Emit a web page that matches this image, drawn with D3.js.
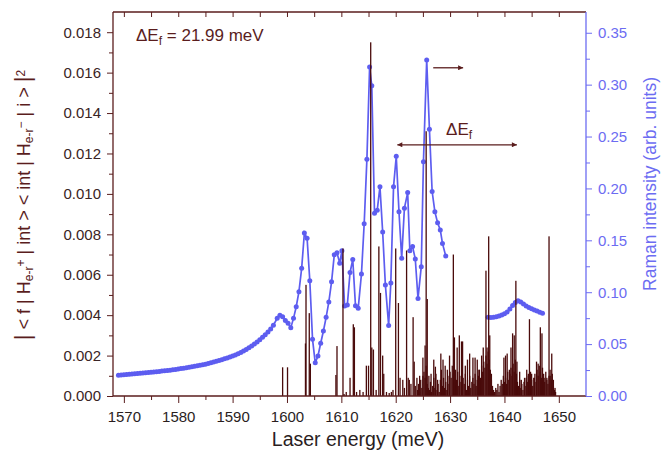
<!DOCTYPE html>
<html><head><meta charset="utf-8">
<script src="https://cdn.jsdelivr.net/npm/d3@7"></script>
<style>
body{margin:0;background:#fff}
svg{display:block}
text{font-family:"Liberation Sans",Arial,Helvetica,sans-serif}
</style>
</head><body><svg id="c" width="669" height="451"></svg>
<script>
// ---- data ----
// main transition-strength spikes
const peakE = [1599.2,1600.1,1603.4,1603.5,1604.1,1604.3,1609.0,1609.2,1610.3,1610.9,1611.6,1612.2,1612.4,1614.6,1615.0,1615.4,1615.6,1615.9,1616.9,1617.2,1617.6,1617.8,1618.8,1619.2,1620.0,1620.5,1620.8,1621.3,1622.0,1622.3,1622.5,1623.2,1623.4,1623.9,1624.4,1625.0,1625.4,1625.6,1625.8,1626.1,1626.5,1627.0,1627.3,1627.7,1628.3,1628.7,1629.1,1629.5,1629.9,1630.6,1630.8,1631.3,1631.7,1632.1,1632.3,1632.8,1633.2,1633.6,1634.2,1634.6,1635.0,1635.3,1635.8,1636.1,1636.6,1636.8,1637.1,1637.3,1637.6,1639.9,1640.2,1640.5,1640.9,1641.2,1641.5,1641.8,1642.1,1642.3,1642.8,1643.1,1643.7,1644.1,1644.4,1644.6,1645.0,1645.5,1645.9,1646.2,1646.6,1646.9,1647.3,1647.8,1648.2,1648.4,1648.7,1649.0,1649.3];
const peakV = [0.00142,0.00142,0.0026,0.0055,0.0041,0.0016,0.00104,0.00247,0.0073,0.0002,0.0009,0.00355,0.0034,0.0015,0.0015,0.0175,0.0024,0.0023,0.0074,0.0051,0.0020,0.0011,0.00015,0.0002,0.0073,0.0046,0.0009,0.0008,0.0072,0.0009,0.0008,0.0039,0.0017,0.0009,0.0010,0.0019,0.0025,0.0131,0.0048,0.0010,0.0011,0.0018,0.00145,0.0008,0.0021,0.0018,0.0015,0.0013,0.0020,0.0070,0.0029,0.0024,0.0030,0.0027,0.0027,0.0015,0.0018,0.0021,0.0019,0.0019,0.0018,0.0013,0.0020,0.0024,0.0062,0.0024,0.0079,0.0030,0.0011,0.0019,0.0020,0.0021,0.0013,0.0024,0.0031,0.0030,0.0057,0.0017,0.0012,0.0008,0.0009,0.0013,0.0011,0.0038,0.0011,0.0009,0.0017,0.0016,0.0034,0.0031,0.0009,0.0008,0.0079,0.0010,0.0021,0.0008,0.0004];
// dense small spikes forming the dark base
const baseE = [1610.5,1612.8,1613.4,1614.0,1616.4,1618.3,1619.5,1621.6,1622.8,1623.6,
1624.0,1624.2,1624.4,1624.6,1624.8,1625.0,1625.2,1625.4,1625.6,1625.8,1626.0,1626.2,1626.4,1626.6,1626.8,1627.0,1627.2,1627.4,1627.6,1627.8,1628.0,1628.2,1628.4,1628.6,1628.8,1629.0,1629.2,1629.4,1629.6,1629.8,1630.0,1630.2,1630.4,1630.6,1630.8,1631.0,1631.2,1631.4,1631.6,1631.8,1632.0,1632.2,1632.4,1632.6,1632.8,1633.0,1633.2,1633.4,1633.6,1633.8,1634.0,1634.2,1634.4,1634.6,1634.8,1635.0,1635.2,1635.4,1635.6,1635.8,1636.0,1636.2,1636.4,1636.6,1636.8,1637.0,1637.2,1637.4,1637.6,1637.8,1638.0,1638.2,1638.4,1638.6,1638.8,1639.0,1639.2,1639.4,1639.6,1639.8,1640.0,1640.2,1640.4,1640.6,1640.8,1641.0,1641.2,1641.4,1641.6,1641.8,1642.0,1642.2,1642.4,1642.6,1642.8,1643.0,1643.2,1643.4,1643.6,1643.8,1644.0,1644.2,1644.4,1644.6,1644.8,1645.0,1645.2,1645.4,1645.6,1645.8,1646.0,1646.2,1646.4,1646.6,1646.8,1647.0,1647.2,1647.4,1647.6,1647.8,1648.0,1648.2,1648.4,1648.6,1648.8,1649.0,1649.2,1649.4];
const baseV = [0.0001,0.0002,0.0003,0.0002,0.0003,0.0002,0.0003,0.0004,0.0006,0.0005,
0.0003,0.0006,0.0002,0.0008,0.0004,0.0010,0.0012,0.0009,0.0015,0.0006,0.0004,0.0003,0.0007,0.0002,0.0005,0.0009,0.0004,0.0011,0.0003,0.0006,0.0002,0.0008,0.0013,0.0005,0.0009,0.0004,0.0007,0.0003,0.0010,0.0006,0.0012,0.0009,0.0015,0.0011,0.0006,0.0013,0.0008,0.0012,0.0005,0.0010,0.0007,0.0004,0.0009,0.0006,0.0011,0.0003,0.0008,0.0005,0.0010,0.0004,0.0007,0.0009,0.0006,0.0011,0.0005,0.0008,0.0010,0.0013,0.0009,0.0015,0.0012,0.0017,0.0014,0.0020,0.0016,0.0022,0.0018,0.0013,0.0008,0.0005,0.0003,0.0002,0.0004,0.0003,0.0006,0.0002,0.0005,0.0008,0.0006,0.0010,0.0007,0.0009,0.0006,0.0012,0.0008,0.0011,0.0014,0.0010,0.0016,0.0012,0.0018,0.0011,0.0007,0.0005,0.0008,0.0004,0.0006,0.0003,0.0007,0.0005,0.0009,0.0007,0.0010,0.0006,0.0012,0.0008,0.0005,0.0009,0.0011,0.0007,0.0013,0.0010,0.0015,0.0012,0.0009,0.0014,0.0011,0.0007,0.0012,0.0009,0.0006,0.0010,0.0013,0.0008,0.0011,0.0005,0.0003,0.0002];
// Raman intensity (right axis), first branch
const ramanE = [1569.0,1569.5,1570.0,1570.5,1571.0,1571.5,1572.0,1572.5,1573.0,1573.5,1574.0,1574.5,1575.0,1575.5,1576.0,1576.5,1577.0,1577.5,1578.0,1578.5,1579.0,1579.5,1580.0,1580.5,1581.0,1581.5,1582.0,1582.5,1583.0,1583.5,1584.0,1584.5,1585.0,1585.5,1586.0,1586.5,1587.0,1587.5,1588.0,1588.5,1589.0,1589.5,1590.0,1590.5,1591.0,1591.5,1592.0,1592.5,1593.0,1593.5,1594.0,1594.5,1595.0,1595.5,1596.0,1596.5,1597.0,1597.5,
1598.2,1598.7,1599.2,1599.7,1600.2,1600.7,1601.2,1601.7,1602.2,1602.7,1603.2,1603.7,1604.2,1604.7,1605.2,1605.7,1606.2,1606.7,1607.2,1607.7,1608.2,1608.7,1609.2,1609.7,1610.1,1610.6,1611.1,1611.6,1612.1,1612.6,1613.1,1613.7,1614.2,1614.7,1615.2,1615.6,1616.1,1616.6,1617.1,1617.6,1618.1,1618.7,1619.1,1619.6,1620.1,1620.6,1621.1,1621.6,1622.2,1622.6,1623.1,1623.6,1624.1,1624.7,1625.1,1625.7,1626.2,1626.7,1627.2,1627.7,1628.2,1628.6,1629.2];
const ramanV = [0.0200,0.0202,0.0205,0.0207,0.0210,0.0212,0.0215,0.0217,0.0219,0.0222,0.0224,0.0227,0.0229,0.0232,0.0234,0.0237,0.0240,0.0243,0.0246,0.0249,0.0253,0.0256,0.0260,0.0264,0.0268,0.0272,0.0277,0.0281,0.0286,0.0291,0.0296,0.0302,0.0307,0.0313,0.0320,0.0327,0.0335,0.0342,0.0350,0.0358,0.0367,0.0376,0.0385,0.0396,0.0408,0.0420,0.0434,0.0449,0.0465,0.0482,0.0500,0.0520,0.0542,0.0565,0.0590,0.0617,0.0645,0.0682,
0.0748,0.0777,0.0764,0.0728,0.0700,0.0658,0.0748,0.0860,0.1005,0.1230,0.1570,0.1520,0.1110,0.0546,0.0320,0.0385,0.0508,0.0626,0.0758,0.0906,0.1100,0.1360,0.1380,0.1280,0.1400,0.0867,0.0877,0.1190,0.1315,0.0870,0.0845,0.1175,0.1660,0.2280,0.3170,0.2990,0.1760,0.1790,0.2017,0.1580,0.1070,0.0680,0.1090,0.2017,0.2310,0.1776,0.1327,0.1810,0.1960,0.1400,0.1440,0.1320,0.0940,0.1246,0.2257,0.3237,0.2570,0.1970,0.1776,0.1670,0.1600,0.1470,0.1350];
// Raman intensity, second branch
const raman2E = [1637.0,1637.5,1638.0,1638.5,1639.0,1639.5,1640.0,1640.5,1641.0,1641.5,1642.0,1642.5,1643.0,1643.5,1644.0,1644.5,1645.0,1645.5,1646.0,1646.5,1647.0];
const raman2V = [0.0758,0.0756,0.0758,0.0764,0.0772,0.0780,0.0793,0.0810,0.0838,0.0872,0.0902,0.0918,0.0905,0.0886,0.0867,0.0852,0.0840,0.0829,0.0818,0.0807,0.0797];
const xTicks = [1570,1580,1590,1600,1610,1620,1630,1640,1650];
const xMinor = [1575,1585,1595,1605,1615,1625,1635,1645];
const yLeftTicks = [0,0.002,0.004,0.006,0.008,0.010,0.012,0.014,0.016,0.018];
const yLeftMinor = [0.001,0.003,0.005,0.007,0.009,0.011,0.013,0.015,0.017];
const yRightTicks = [0,0.05,0.10,0.15,0.20,0.25,0.30,0.35];
const yRightMinor = [0.025,0.075,0.125,0.175,0.225,0.275,0.325];
const deltaEf = 21.99;
const arrowStartE = 1620.3, arrowLevel = 0.01243;
const rightArrowE = [1626.9,1632.4], rightArrowLevel = 0.01624;

// ---- drawing ----
const maroon = "#5a1d1d", barCol = "#4a0b0b", blue = "#5d5df0", blueAx = "#6c6cf2";
const svg = d3.select("#c");
const L = 113, R = 586, T = 12, B = 396;
const x = d3.scaleLinear().domain([1568,1655]).range([L,R]);
const yL = d3.scaleLinear().domain([0,0.019]).range([B,T]);
const yR = d3.scaleLinear().domain([0,0.37]).range([B,T]);

// Raman line
function raman(E,V){
  const pts = E.map((e,i)=>[e,V[i]]);
  svg.append("path").datum(pts)
    .attr("fill","none").attr("stroke",blue).attr("stroke-width",1.7)
    .attr("d", d3.line().x(d=>x(d[0])).y(d=>yR(d[1])));
  svg.append("g").selectAll("circle").data(pts).join("circle")
    .attr("cx",d=>x(d[0])).attr("cy",d=>yR(d[1])).attr("r",2.5).attr("fill",blue);
}
raman(ramanE, ramanV);
raman(raman2E, raman2V);

// bars
function bars(E,V){
  svg.append("g").selectAll("rect").data(E.map((e,i)=>[e,V[i]])).join("rect")
    .attr("x",d=>x(d[0])-0.65).attr("width",1.3)
    .attr("y",d=>yL(d[1])).attr("height",d=>yL(0)-yL(d[1]))
    .attr("fill",barCol);
}
bars(baseE, baseV);
bars(peakE, peakV);

// axes
const fs = "15px";
const gx = svg.append("g").attr("transform",`translate(0,${B})`)
  .call(d3.axisBottom(x).tickValues(xTicks).tickSize(7).tickPadding(8).tickFormat(d3.format("d")));
gx.append("g").call(d3.axisBottom(x).tickValues(xMinor).tickSize(4).tickFormat(""));
gx.selectAll(".domain").remove();
gx.selectAll("line").attr("stroke",maroon);
gx.selectAll("text").attr("fill","#2a1e1e").style("font-size",fs);

const gt = svg.append("g").attr("transform",`translate(0,${T})`)
  .call(d3.axisTop(x).tickValues(xTicks.concat(xMinor)).tickSize(-5).tickFormat(""));
gt.selectAll(".domain").remove();
gt.selectAll("line").attr("stroke",maroon);

const gl = svg.append("g").attr("transform",`translate(${L},0)`)
  .call(d3.axisLeft(yL).tickValues(yLeftTicks).tickSize(6).tickPadding(6).tickFormat(d3.format(".3f")));
gl.append("g").call(d3.axisLeft(yL).tickValues(yLeftMinor).tickSize(4).tickFormat(""));
gl.selectAll(".domain").remove();
gl.selectAll("line").attr("stroke",maroon);
gl.selectAll("text").attr("fill","#3a2424").style("font-size",fs);

const gr = svg.append("g").attr("transform",`translate(${R},0)`)
  .call(d3.axisRight(yR).tickValues(yRightTicks).tickSize(6).tickPadding(6).tickFormat(d3.format(".2f")));
gr.append("g").call(d3.axisRight(yR).tickValues(yRightMinor).tickSize(4).tickFormat(""));
gr.selectAll(".domain").remove();
gr.selectAll("line").attr("stroke",blueAx);
gr.selectAll("text").attr("fill",blueAx).style("font-size",fs);

// frame
svg.append("line").attr("x1",L).attr("x2",L).attr("y1",T).attr("y2",B).attr("stroke",maroon).attr("stroke-width",1.3);
svg.append("line").attr("x1",L).attr("x2",R).attr("y1",B).attr("y2",B).attr("stroke",maroon).attr("stroke-width",1.3);
svg.append("line").attr("x1",L).attr("x2",R).attr("y1",T).attr("y2",T).attr("stroke",maroon).attr("stroke-width",1.3);
svg.append("line").attr("x1",R).attr("x2",R).attr("y1",T).attr("y2",B).attr("stroke",blueAx).attr("stroke-width",1.3);

// axis titles
svg.append("text").attr("x",358).attr("y",446).attr("text-anchor","middle")
  .attr("fill","#2a1e1e").style("font-size","19.5px").text("Laser energy (meV)");

svg.append("text").attr("transform","translate(656,184) rotate(-90)").attr("text-anchor","middle")
  .attr("fill",blueAx).style("font-size","17.5px").text("Raman intensity (arb. units)");

const yt = svg.append("text").attr("transform","translate(30,205) rotate(-90)").attr("text-anchor","middle")
  .attr("fill",maroon).style("font-size","18px");
const parts = [
  ["|","n",22],[" < f | H","n"],["e-r","sub"],["+","sup"],[" | int > < int | H","n"],["e-r","sub"],["\u2212","sup"],[" | i > ","n"],["|","n",22],["2","sup"]
];
parts.forEach(p=>{
  const t = yt.append("tspan").text(p[0]);
  if(p[1]==="sub"){t.attr("baseline-shift","-25%").style("font-size","12px");}
  else if(p[1]==="sup"){t.attr("baseline-shift","45%").style("font-size","12px");}
  if(p[2]) t.style("font-size",p[2]+"px");
});

// annotation: Delta E_f value
const a = svg.append("text").attr("x",136).attr("y",41).attr("fill",maroon).style("font-size","17px");
a.append("tspan").text("\u0394E");
a.append("tspan").attr("baseline-shift","-30%").style("font-size","12px").text("f");
a.append("tspan").text(" = " + deltaEf.toFixed(2) + " meV");

// markers
const defs = svg.append("defs");
["end","start"].forEach(k=>{
  defs.append("marker").attr("id","ah-"+k).attr("viewBox","0 0 10 10").attr("refX",k==="end"?10:0).attr("refY",5)
    .attr("markerWidth",7).attr("markerHeight",5).attr("markerUnits","userSpaceOnUse").attr("orient","auto")
    .append("path").attr("d",k==="end"?"M0,0L10,5L0,10z":"M10,0L0,5L10,10z").attr("fill",maroon);
});
svg.append("line").attr("x1",x(arrowStartE)).attr("x2",x(arrowStartE+deltaEf))
  .attr("y1",yL(arrowLevel)).attr("y2",yL(arrowLevel)).attr("stroke",maroon).attr("stroke-width",1.3)
  .attr("marker-end","url(#ah-end)").attr("marker-start","url(#ah-start)");
svg.append("line").attr("x1",x(rightArrowE[0])).attr("x2",x(rightArrowE[1]))
  .attr("y1",yL(rightArrowLevel)).attr("y2",yL(rightArrowLevel)).attr("stroke",maroon).attr("stroke-width",1.3)
  .attr("marker-end","url(#ah-end)");
const b = svg.append("text").attr("x",x(arrowStartE+deltaEf/2)-11).attr("y",135).attr("fill",maroon).style("font-size","17px");
b.append("tspan").text("\u0394E");
b.append("tspan").attr("baseline-shift","-30%").style("font-size","12px").text("f");
</script>
</body></html>
